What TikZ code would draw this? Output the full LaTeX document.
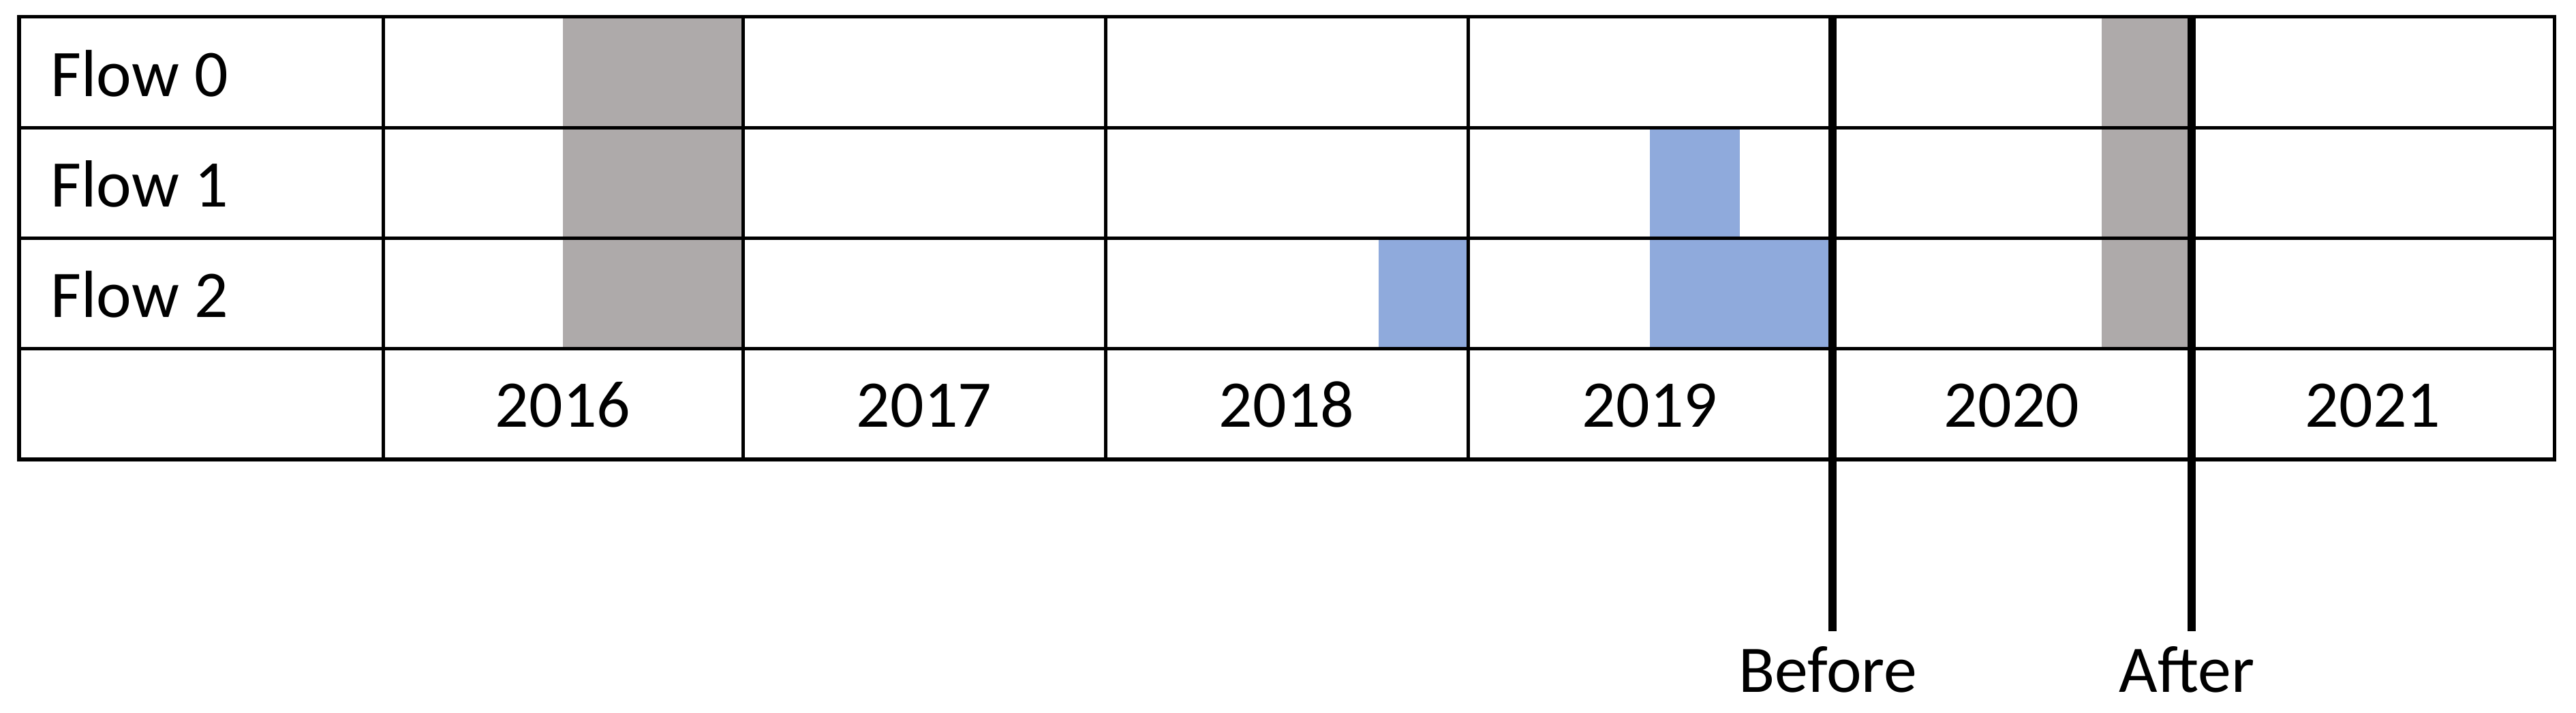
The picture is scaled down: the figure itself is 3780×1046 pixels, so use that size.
\documentclass[tikz,border=0pt]{standalone}
\usepackage{fontspec}
\setmainfont{Carlito}
\definecolor{graybar}{HTML}{AEAAAA}
\definecolor{bluebar}{HTML}{8FAADC}
\begin{document}
\begin{tikzpicture}[x=0.01cm,y=-0.01cm,
  grid/.style={draw=black,line width=0.05cm},
  markline/.style={draw=black,line width=0.115cm},
  gbar/.style={fill=graybar},
  bbar/.style={fill=bluebar},
  lbl/.style={inner sep=0pt,anchor=base west,font=\fontsize{27.8pt}{33pt}\selectfont},
  yr/.style={inner sep=0pt,anchor=base,font=\fontsize{27.8pt}{33pt}\selectfont}]
\useasboundingbox[fill=white] (0,0) rectangle (3780,1046);
% fills
\fill[gbar] (826,25) rectangle (1090,512);
\fill[gbar] (3084,25) rectangle (3216,512);
\fill[bbar] (2023,350) rectangle (2154,512);
\fill[bbar] (2421,188) rectangle (2553,350);
\fill[bbar] (2421,350) rectangle (2689,512);
% grid
\foreach \yy in {188,350,512} \draw[grid] (28,\yy) -- (3748,\yy);
\foreach \xx in {562,1090,1622,2154,3216} \draw[grid] (\xx,25) -- (\xx,674);
\draw[grid] (2689,25) -- (2689,674);
\draw[grid] (28,25) rectangle (3748,674);
% before / after markers
\coordinate (btop) at (2689,25);
\coordinate (bbot) at (2689,926);
\coordinate (atop) at (3216,25);
\coordinate (abot) at (3216,926);
\draw[markline] (btop) -- (bbot);
\draw[markline] (atop) -- (abot);
% labels
\node[lbl] (f0) at (74,142) {Flow 0};
\node[lbl] (f1) at (74,304) {Flow 1};
\node[lbl] (f2) at (74,466) {Flow 2};
\node[yr] (y16) at (826,627) {2016};
\node[yr] (y17) at (1356,627) {2017};
\node[yr] (y18) at (1888,627) {2018};
\node[yr] (y19) at (2421,627) {2019};
\node[yr] (y20) at (2952,627) {2020};
\node[yr] (y21) at (3482,627) {2021};
\node[yr] (before) at (2682,1015) {Before};
\node[yr] (after) at (3209,1015) {After};
\end{tikzpicture}
\end{document}
